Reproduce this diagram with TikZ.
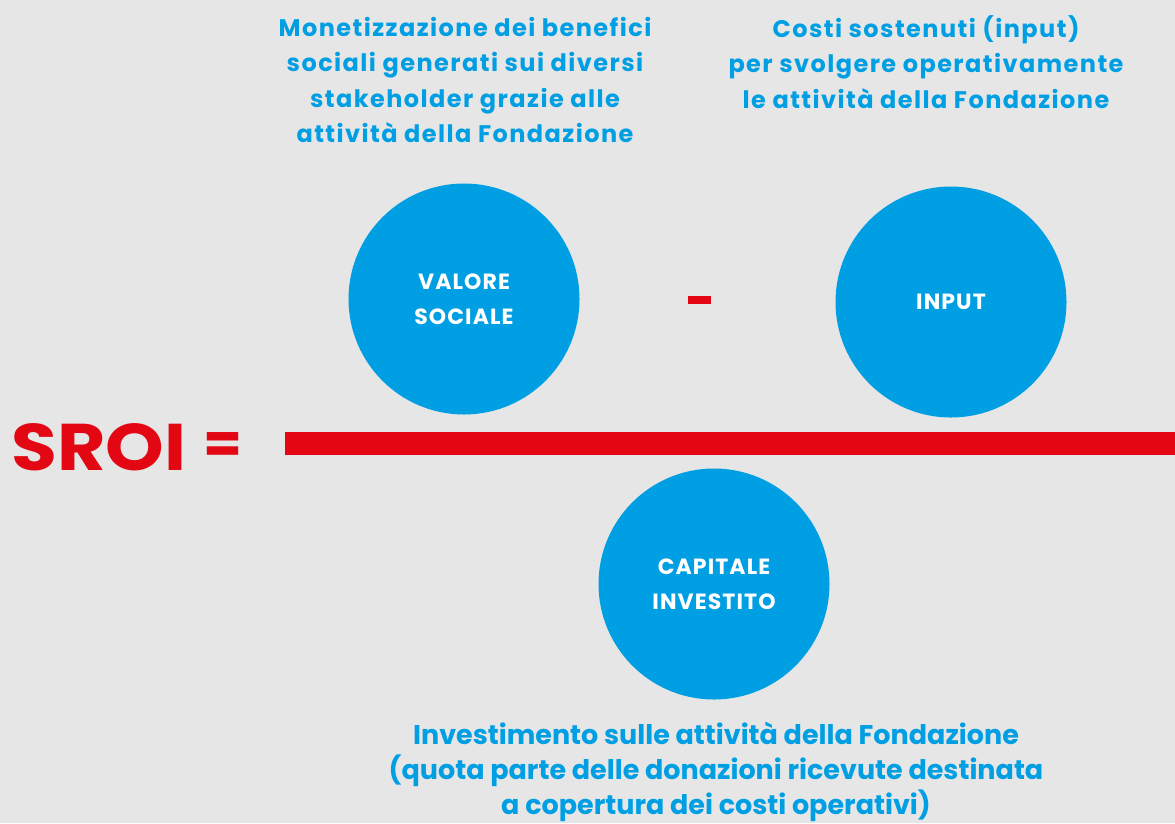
\documentclass[tikz,border=0pt]{standalone}
\usepackage{fontspec}
\setmainfont{Poppins}
\definecolor{bg}{HTML}{E6E6E6}
\definecolor{sblue}{HTML}{009FE3}
\definecolor{sred}{HTML}{E30613}
\begin{document}
\begin{tikzpicture}[x=1pt,y=-1pt,
  bubble/.style={circle,fill=sblue,minimum size=231pt,inner sep=0pt,text=white,
    font=\fontsize{22}{35}\selectfont\bfseries\addfontfeatures{LetterSpace=5},align=center},
  caption/.style={text=sblue,font=\fontsize{24}{35.5}\selectfont\bfseries\addfontfeatures{LetterSpace=6},align=center,inner sep=0pt},
  bar/.style={fill=sred,draw=none}]
\useasboundingbox[fill=bg] (0,0) rectangle (1175,823);
\node[bubble] (vs) at (464,299) {VALORE\\SOCIALE};
\node[bubble] (inp) at (951,302) {INPUT};
\node[bubble] (ci) at (714,584) {CAPITALE\\INVESTITO};
\node[bar,minimum width=23pt,minimum height=8pt,inner sep=0pt] (minus) at (699.5,300) {};
\node[bar,anchor=west,minimum width=890pt,minimum height=23pt,inner sep=0pt] (frac) at (285,443.5) {};
\node[text=sred,font=\fontsize{66}{70}\selectfont\bfseries,anchor=west,inner sep=0pt,xscale=1.13] (sroi) at (11,447) {SROI};
\node[text=sred,font=\fontsize{56}{60}\selectfont\bfseries,inner sep=0pt] (eq) at (222.5,448) {=};
\node[caption] (t1) at (465,80) {Monetizzazione dei benefici\\sociali generati sui diversi\\stakeholder grazie alle\\attività della Fondazione};
\node[caption] (t2) at (926,62) {Costi sostenuti (input)\\per svolgere operativamente\\le attività della Fondazione};
\node[caption,font=\fontsize{27}{35}\selectfont\bfseries] (t3) at (716,772) {Investimento sulle attività della Fondazione\\(quota parte delle donazioni ricevute destinata\\a copertura dei costi operativi)};
\end{tikzpicture}
\end{document}
